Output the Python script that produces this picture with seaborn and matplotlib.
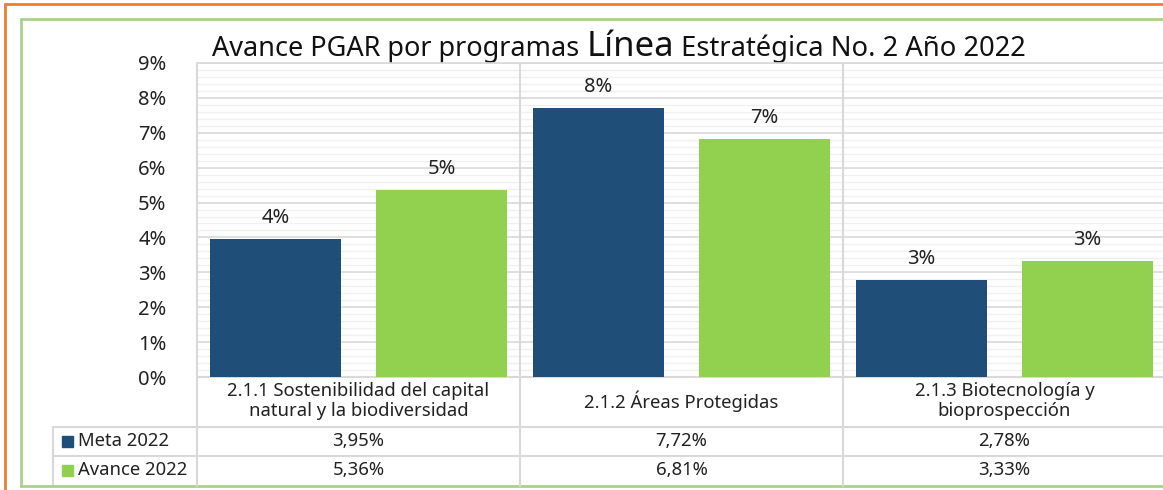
import matplotlib
matplotlib.use("Agg")
import matplotlib.pyplot as plt
import seaborn as sns
import pandas as pd
from matplotlib.lines import Line2D
from matplotlib.patches import Rectangle

# ---- data ----
categories = ["2.1.1 Sostenibilidad del capital\nnatural y la biodiversidad",
              "2.1.2 Áreas Protegidas",
              "2.1.3 Biotecnología y\nbioprospección"]
series_names = ["Meta 2022", "Avance 2022"]
meta_2022 = [3.95, 7.72, 2.78]
avance_2022 = [5.36, 6.81, 3.33]
y_ticks = [0, 1, 2, 3, 4, 5, 6, 7, 8, 9]
title_parts = ["Avance PGAR por programas ", "Línea", " Estratégica No. 2 Año 2022"]

colors = ["#1F4E79", "#92D050"]
W, H = 1163, 490

df = pd.DataFrame({
    "cat": categories * 2,
    "serie": [series_names[0]] * 3 + [series_names[1]] * 3,
    "val": meta_2022 + avance_2022,
})

sns.set_theme(style="white")
plt.rcParams["font.family"] = ["Noto Sans", "DejaVu Sans"]

fig = plt.figure(figsize=(W / 100, H / 100), dpi=100)
ov = fig.add_axes([0, 0, 1, 1], zorder=-5)
ov.set_xlim(0, W)
ov.set_ylim(H, 0)
ov.axis("off")

px0, px1, py_top, py_bot = 197, 1166, 63, 377
ax = fig.add_axes([px0 / W, (H - py_bot) / H, (px1 - px0) / W, (py_bot - py_top) / H])

sns.barplot(data=df, x="cat", y="val", hue="serie", hue_order=series_names,
            palette=colors, width=1.03, gap=0.21, saturation=1,
            edgecolor="none", legend=False, ax=ax, zorder=3)

ax.set_xlim(-0.5, 2.5)
ax.set_ylim(0, 9)
ax.set_yticks(y_ticks)
ax.set_yticklabels([f"{t}%" for t in y_ticks], fontsize=14.5, color="#222222")
ax.set_yticks([i * 0.2 for i in range(46)], minor=True)
ax.tick_params(axis="y", length=0, pad=22)
ax.tick_params(axis="y", which="minor", length=0)
ax.set_xticks([])
ax.set_xlabel("")
ax.set_ylabel("")
ax.grid(axis="y", which="major", color="#d9d9d9", lw=1.2, zorder=0)
ax.grid(axis="y", which="minor", color="#f0f0f0", lw=1.0, zorder=0)
ax.set_axisbelow(True)
for s in ax.spines.values():
    s.set_visible(False)

for cont, vals in zip(ax.containers, [meta_2022, avance_2022]):
    ax.bar_label(cont, labels=[f"{round(v)}%" for v in vals], padding=8,
                 fontsize=14.5, color="#222222")

# ---- table ----
def yf(py):
    return (py_bot - py) / (py_bot - py_top)

tr = ax.get_xaxis_transform()
grid_c = "#d9d9d9"
for xb in [-0.5, 0.5, 1.5]:
    ax.add_line(Line2D([xb, xb], [yf(486), 1.0], transform=tr, color=grid_c,
                       lw=1.5, clip_on=False, zorder=1))
ax.add_line(Line2D([-0.5, 2.6], [0, 0], transform=tr, color=grid_c, lw=1.5,
                   clip_on=False, zorder=2))
ax.add_line(Line2D([-0.5, 2.6], [1, 1], transform=tr, color=grid_c, lw=1.2,
                   clip_on=False, zorder=2))
for py in [427, 456]:
    ov.add_line(Line2D([53, W], [py, py], color=grid_c, lw=1.5))
ov.add_line(Line2D([53, 53], [427, 486], color=grid_c, lw=1.5))

fs_tab = 13.3
for i, c in enumerate(categories):
    ax.text(i, yf(401), c, transform=tr, ha="center", va="center",
            fontsize=fs_tab, color="#222222", linespacing=1.2)
for row, (vals, py) in enumerate(zip([meta_2022, avance_2022], [441, 470])):
    for i, v in enumerate(vals):
        ax.text(i, yf(py), f"{v:.2f}%".replace(".", ","), transform=tr,
                ha="center", va="center", fontsize=fs_tab, color="#222222")
    ov.add_patch(Rectangle((62, py - 5.5), 11, 11, color=colors[row]))
    ov.text(78, py, series_names[row], ha="left", va="center",
            fontsize=fs_tab, color="#222222")

# ---- frames ----
ov.add_line(Line2D([5, W], [4, 4], color="#ED7D31", lw=2))
ov.add_line(Line2D([5, 5], [4, H], color="#ED7D31", lw=2))
ov.add_line(Line2D([21, W], [19.5, 19.5], color="#A9D18E", lw=2))
ov.add_line(Line2D([21, 21], [19.5, 486], color="#A9D18E", lw=2))
ov.add_line(Line2D([21, W], [486, 486], color="#A9D18E", lw=2))

# ---- title with mixed sizes ----
fig.canvas.draw()
renderer = fig.canvas.get_renderer()
sizes = [19.5, 25, 19.7]
x = 212
for part, sz in zip(title_parts, sizes):
    t = ov.text(x, 56, part, fontsize=sz, ha="left", va="baseline", color="#111111")
    bb = t.get_window_extent(renderer)
    x += bb.width

fig.savefig("out.png", dpi=100)
